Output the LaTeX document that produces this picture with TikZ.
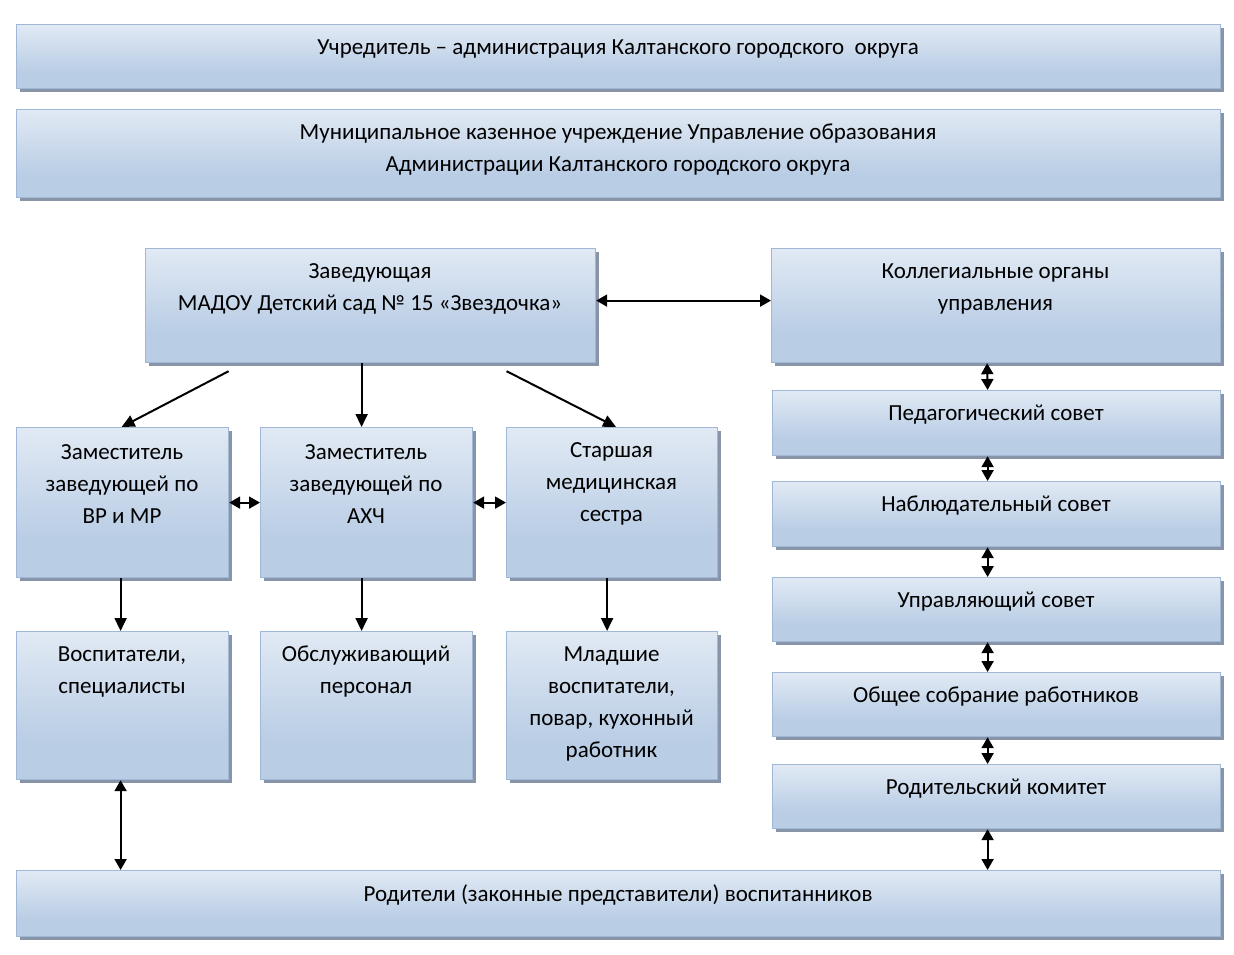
\documentclass[tikz,border=0pt]{standalone}
\usepackage{fontspec}
\setmainfont{Carlito}
\usetikzlibrary{arrows.meta,shadows,calc}
\definecolor{boxblue}{RGB}{185,205,229}
\definecolor{boxtop}{RGB}{252,253,254}
\definecolor{boxline}{RGB}{160,184,214}
\definecolor{shadowc}{RGB}{136,148,168}
\pgfdeclareverticalshading{boxshade}{100bp}{color(0bp)=(boxblue); color(38bp)=(boxblue); color(100bp)=(boxtop)}
\tikzset{
  boxs/.style={rectangle, draw=boxline, line width=1.2pt, shading=boxshade, inner sep=0pt, anchor=north west,
    drop shadow={shadow xshift=3pt, shadow yshift=-3pt, opacity=1, fill=shadowc}},
  txt/.style={align=center, inner sep=0pt, font=\fontsize{23}{32}\selectfont},
  one/.style={line width=2pt, -{Triangle[length=13pt,width=12pt]}},
  two/.style={line width=2pt, {Triangle[length=11pt,width=12pt]}-{Triangle[length=11pt,width=12pt]}}
}
% name, x1, y1, x2, y2, n lines, text
\newcommand\obox[7]{%
  \node[boxs, minimum width={#4-#2}, minimum height={#5-#3}] (#1) at (#2,#3) {};
  \node[txt] (#1t) at ({(#2+#4)/2},{#3+25+(#6-1)*16}) {#7};
}
\begin{document}
\begin{tikzpicture}[x=1pt,y=-1pt]
\useasboundingbox[fill=white] (0,0) rectangle (1234,955);
\obox{ucr}{16}{24}{1220}{88}{1}{Учредитель – администрация Калтанского городского\ \ округа}
\obox{mku}{16}{109}{1220}{197}{2}{Муниципальное казенное учреждение Управление образования\\Администрации Калтанского городского округа}
\obox{zav}{145}{248}{595}{362}{2}{Заведующая\\МАДОУ Детский сад № 15 «Звездочка»}
\obox{koll}{771}{248}{1220}{362}{2}{Коллегиальные органы\\управления}
\obox{ped}{772}{390}{1220}{455}{1}{Педагогический совет}
\obox{nab}{772}{481}{1220}{546}{1}{Наблюдательный совет}
\obox{upr}{772}{577}{1220}{641}{1}{Управляющий совет}
\obox{obsh}{772}{672}{1220}{736}{1}{Общее собрание работников}
\obox{rk}{772}{764}{1220}{828}{1}{Родительский комитет}
\obox{vr}{16}{427}{228}{577}{3}{Заместитель\\заведующей по\\ВР и МР}
\obox{ahch}{260}{427}{472}{577}{3}{Заместитель\\заведующей по\\АХЧ}
\obox{ms}{506}{427}{717}{577}{3}{Старшая\\медицинская\\сестра}
\obox{vosp}{16}{631}{228}{779}{2}{Воспитатели,\\специалисты}
\obox{obs}{260}{631}{472}{779}{2}{Обслуживающий\\персонал}
\obox{ml}{506}{631}{717}{779}{4}{Младшие\\воспитатели,\\повар, кухонный\\работник}
\obox{rod}{16}{870}{1220}{936}{1}{Родители (законные представители) воспитанников}
% connectors
\draw[two] ([yshift=5pt]zav.east) -- ([yshift=5pt]koll.west);
\draw[one] ([xshift=-142pt,yshift=-8pt]zav.south) -- ([xshift=-1pt]vr.north);
\draw[one] ([xshift=-5pt]ahch.north |- zav.south) -- ([xshift=-5pt]ahch.north);
\draw[one] ([xshift=136pt,yshift=-8pt]zav.south) -- ([xshift=4pt]ms.north);
\draw[two] (vr.east) -- (ahch.west);
\draw[two] (ahch.east) -- (ms.west);
\draw[one] ([xshift=-2pt]vr.south) -- ([xshift=-2pt]vosp.north);
\draw[one] ([xshift=-5pt]ahch.south) -- ([xshift=-5pt]obs.north);
\draw[one] ([xshift=-5pt]ms.south) -- ([xshift=-5pt]ml.north);
\draw[two] ([xshift=-2pt]vosp.south) -- ([xshift=-2pt]vosp.south |- rod.north);
\draw[two] ([xshift=-9pt]koll.south) -- ([xshift=-9pt]ped.north);
\draw[two] ([xshift=-9pt]ped.south) -- ([xshift=-9pt]nab.north);
\draw[two] ([xshift=-9pt]nab.south) -- ([xshift=-9pt]upr.north);
\draw[two] ([xshift=-9pt]upr.south) -- ([xshift=-9pt]obsh.north);
\draw[two] ([xshift=-9pt]obsh.south) -- ([xshift=-9pt]rk.north);
\draw[two] ([xshift=-9pt]rk.south) -- ([xshift=-9pt]rk.south |- rod.north);
\end{tikzpicture}
\end{document}
